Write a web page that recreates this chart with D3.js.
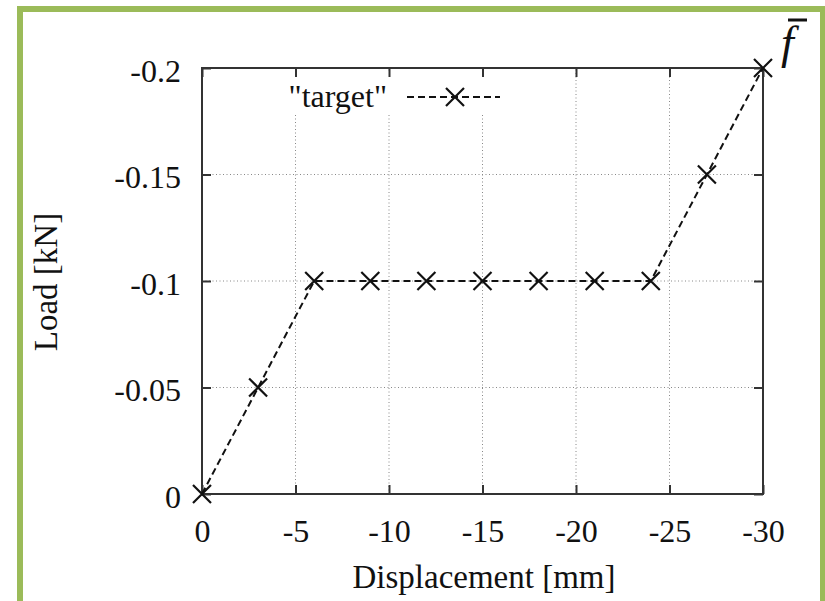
<!DOCTYPE html>
<html><head><meta charset="utf-8">
<script src="https://cdn.jsdelivr.net/npm/d3@7"></script>
<style>
html,body{margin:0;padding:0;background:#fff;}
</style></head>
<body><svg id="c" width="825" height="601"></svg>
<script>
const displacement = [0, -3, -6, -9, -12, -15, -18, -21, -24, -27, -30];
const load = [0, -0.05, -0.1, -0.1, -0.1, -0.1, -0.1, -0.1, -0.1, -0.15, -0.2];
const xTicks = [0, -5, -10, -15, -20, -25, -30];
const yTicks = [0, -0.05, -0.1, -0.15, -0.2];
const xTickLabels = ["0", "-5", "-10", "-15", "-20", "-25", "-30"];
const yTickLabels = ["0", "-0.05", "-0.1", "-0.15", "-0.2"];
const seriesName = '"target"';
const FONT = "Liberation Serif";

const svg = d3.select("#c");
svg.append("rect").attr("x",0).attr("y",0).attr("width",825).attr("height",601).attr("fill","#fff");
// green frame
svg.append("rect").attr("x",20).attr("y",9).attr("width",803).attr("height",620)
  .attr("fill","none").attr("stroke","#9bbb59").attr("stroke-width",6);

const L=202,R=763,T=68,B=494;
const x = d3.scaleLinear().domain([0,-30]).range([L,R]);
const y = d3.scaleLinear().domain([0,-0.2]).range([B,T]);

// grid
const g = svg.append("g");
g.selectAll(".gx").data(xTicks.slice(1,-1)).enter().append("line")
  .attr("x1",d=>x(d)).attr("x2",d=>x(d)).attr("y1",B).attr("y2",T)
  .attr("stroke","#888").attr("stroke-width",1).attr("stroke-dasharray","1,2.5");
g.selectAll(".gy").data(yTicks.slice(1,-1)).enter().append("line")
  .attr("y1",d=>y(d)).attr("y2",d=>y(d)).attr("x1",L).attr("x2",R)
  .attr("stroke","#888").attr("stroke-width",1).attr("stroke-dasharray","1,2.5");

// legend background
svg.append("rect").attr("x",268).attr("y",72).attr("width",245).attr("height",41).attr("fill","#fff");

function styleAxis(sel, showText){
  sel.attr("font-family",FONT).attr("font-size",32);
  sel.select(".domain").remove();
  sel.selectAll(".tick line").attr("stroke","#333").attr("stroke-width",2);
  sel.selectAll(".tick text").attr("fill","#111").attr("font-family",FONT).attr("font-size",32);
  if(!showText) sel.selectAll(".tick text").remove();
}
const xa = svg.append("g").attr("transform",`translate(0,${B})`)
  .call(d3.axisBottom(x).tickValues(xTicks).tickFormat((d,i)=>xTickLabels[i]).tickSizeInner(-9).tickSizeOuter(0).tickPadding(25));
styleAxis(xa,true);
const xt = svg.append("g").attr("transform",`translate(0,${T})`)
  .call(d3.axisTop(x).tickValues(xTicks).tickSizeInner(-9).tickSizeOuter(0));
styleAxis(xt,false);
const ya = svg.append("g").attr("transform",`translate(${L},0)`)
  .call(d3.axisLeft(y).tickValues(yTicks).tickFormat((d,i)=>yTickLabels[i]).tickSizeInner(-9).tickSizeOuter(0).tickPadding(21));
styleAxis(ya,true);
ya.selectAll(".tick text").attr("dy","0.42em");
const yr = svg.append("g").attr("transform",`translate(${R},0)`)
  .call(d3.axisRight(y).tickValues(yTicks).tickSizeInner(-9).tickSizeOuter(0));
styleAxis(yr,false);

// frame
svg.append("rect").attr("x",L).attr("y",T).attr("width",R-L).attr("height",B-T)
  .attr("fill","none").attr("stroke","#333").attr("stroke-width",2);

// data line
const pts = displacement.map((d,i)=>[d,load[i]]);
svg.append("path").datum(pts)
  .attr("d",d3.line().x(d=>x(d[0])).y(d=>y(d[1])))
  .attr("fill","none").attr("stroke","#111").attr("stroke-width",2).attr("stroke-dasharray","7,4");
const cs = 9;
function cross(sel){
  sel.append("path").attr("d",`M${-cs},${-cs}L${cs},${cs}M${-cs},${cs}L${cs},${-cs}`)
    .attr("stroke","#111").attr("stroke-width",2.2).attr("fill","none");
}
svg.selectAll(".pt").data(pts).enter().append("g")
  .attr("transform",d=>`translate(${x(d[0])},${y(d[1])})`).call(cross);

// legend
svg.append("text").attr("x",387).attr("y",107).attr("text-anchor","end")
  .attr("font-family",FONT).attr("font-size",32).attr("fill","#111").text(seriesName);
svg.append("line").attr("x1",407).attr("x2",500).attr("y1",97).attr("y2",97)
  .attr("stroke","#111").attr("stroke-width",2).attr("stroke-dasharray","7,4");
svg.append("g").attr("transform","translate(455,97)").call(cross);

// axis titles
svg.append("text").attr("x",484).attr("y",588).attr("text-anchor","middle")
  .attr("font-family",FONT).attr("font-size",33).attr("fill","#111").text("Displacement [mm]");
svg.append("text").attr("transform","translate(57,282) rotate(-90)").attr("text-anchor","middle")
  .attr("font-family",FONT).attr("font-size",33).attr("fill","#111").text("Load [kN]");

// f-bar annotation
svg.append("text").attr("x",781).attr("y",58).attr("font-family",FONT).attr("font-size",46).attr("font-style","italic")
  .attr("fill","#111").text("f");
svg.append("line").attr("x1",788).attr("x2",807).attr("y1",20).attr("y2",20)
  .attr("stroke","#111").attr("stroke-width",3);
</script></body></html>
